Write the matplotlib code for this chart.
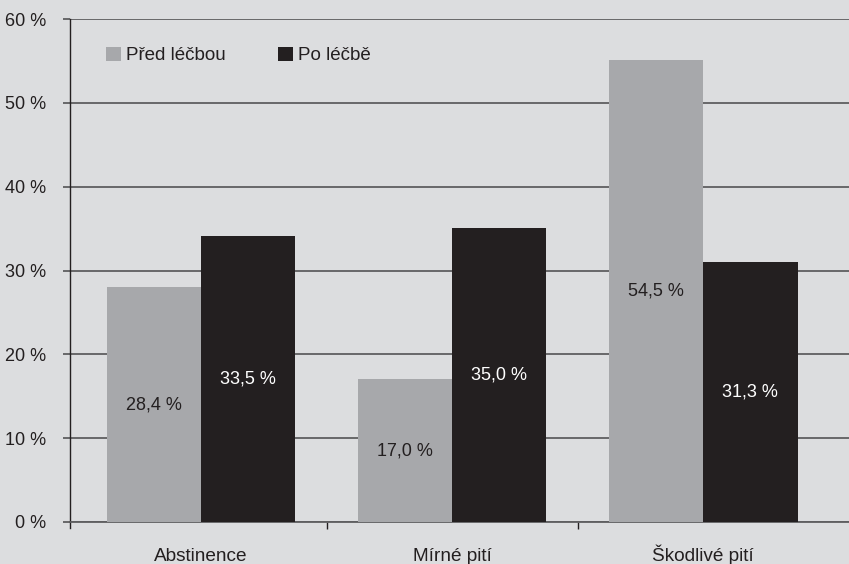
import numpy as np
import matplotlib.pyplot as plt
from matplotlib.ticker import FixedLocator
import matplotlib.transforms as mtrans

categories = ["Abstinence", "Mírné pití", "Škodlivé pití"]
series = ["Před léčbou", "Po léčbě"]
# bar heights as drawn in the picture
before = [28.0, 17.0, 55.1]
after = [34.1, 35.1, 31.0]
# labels printed inside the bars
before_labels = ["28,4 %", "17,0 %", "54,5 %"]
after_labels = ["33,5 %", "35,0 %", "31,3 %"]
yticks = [0, 10, 20, 30, 40, 50, 60]

bg = "#dcdddf"
c_before = "#a7a8ab"
c_after = "#231f20"
txt = "#231f20"
grid_c = "#5e5e60"

plt.rcParams["font.family"] = ["Liberation Sans", "DejaVu Sans"]
plt.rcParams["font.size"] = 13

fig = plt.figure(figsize=(8.49, 5.64), dpi=100, facecolor=bg)
ax = fig.add_axes([70/849, 42/564, 1 - 70/849, (522 - 19)/564])
ax.set_facecolor(bg)

x = np.arange(len(categories))
w = 0.375
b1 = ax.bar(x - w/2, before, w, color=c_before, label=series[0], zorder=3)
b2 = ax.bar(x + w/2, after, w, color=c_after, label=series[1], zorder=3)

for xi, h, lab in zip(x, before, before_labels):
    ax.text(xi - w/2, h/2, lab, ha="center", va="center", color=txt, fontsize=13, zorder=4)
for xi, h, lab in zip(x, after, after_labels):
    ax.text(xi + w/2, h/2, lab, ha="center", va="center", color="white", fontsize=13, zorder=4)

ax.set_xlim(-0.522, 2.58)
ax.set_ylim(0, 60)
ax.set_yticks(yticks)
ax.set_yticklabels(["{} %".format(v) for v in yticks])
ax.yaxis.grid(True, color=grid_c, lw=1.3, zorder=1)
ax.tick_params(axis="y", length=5, width=1.3, color=grid_c, pad=12, labelcolor=txt)

# category labels on a common baseline
ax.set_xticks(x)
ax.set_xticklabels([])
ax.tick_params(axis="x", which="major", length=0)
tr = mtrans.blended_transform_factory(ax.transData, fig.transFigure)
for xi, cat in zip(x, categories):
    ax.text(xi, 3/564, cat, transform=tr, ha="center", va="baseline", color=txt, fontsize=13.7)
ax.xaxis.set_minor_locator(FixedLocator([0.5, 1.5]))
ax.tick_params(axis="x", which="minor", length=5, width=1, color=txt)

for s in ["top", "right"]:
    ax.spines[s].set_visible(False)
ax.spines["bottom"].set_color(grid_c)
ax.spines["bottom"].set_linewidth(1.3)
ax.spines["left"].set_color(txt)
ax.spines["left"].set_linewidth(1)
ax.spines["left"].set_bounds(-0.75, 60)

leg = ax.legend(loc="center left", bbox_to_anchor=(36/779, (522 - 55.5)/503), ncol=2, frameon=False,
                borderpad=0, borderaxespad=0,
                handlelength=0.8, handleheight=0.8, handletextpad=0.27, columnspacing=2.8,
                fontsize=13.5)
for t in leg.get_texts():
    t.set_color(txt)

fig.savefig("out.png", dpi=100, facecolor=bg)
